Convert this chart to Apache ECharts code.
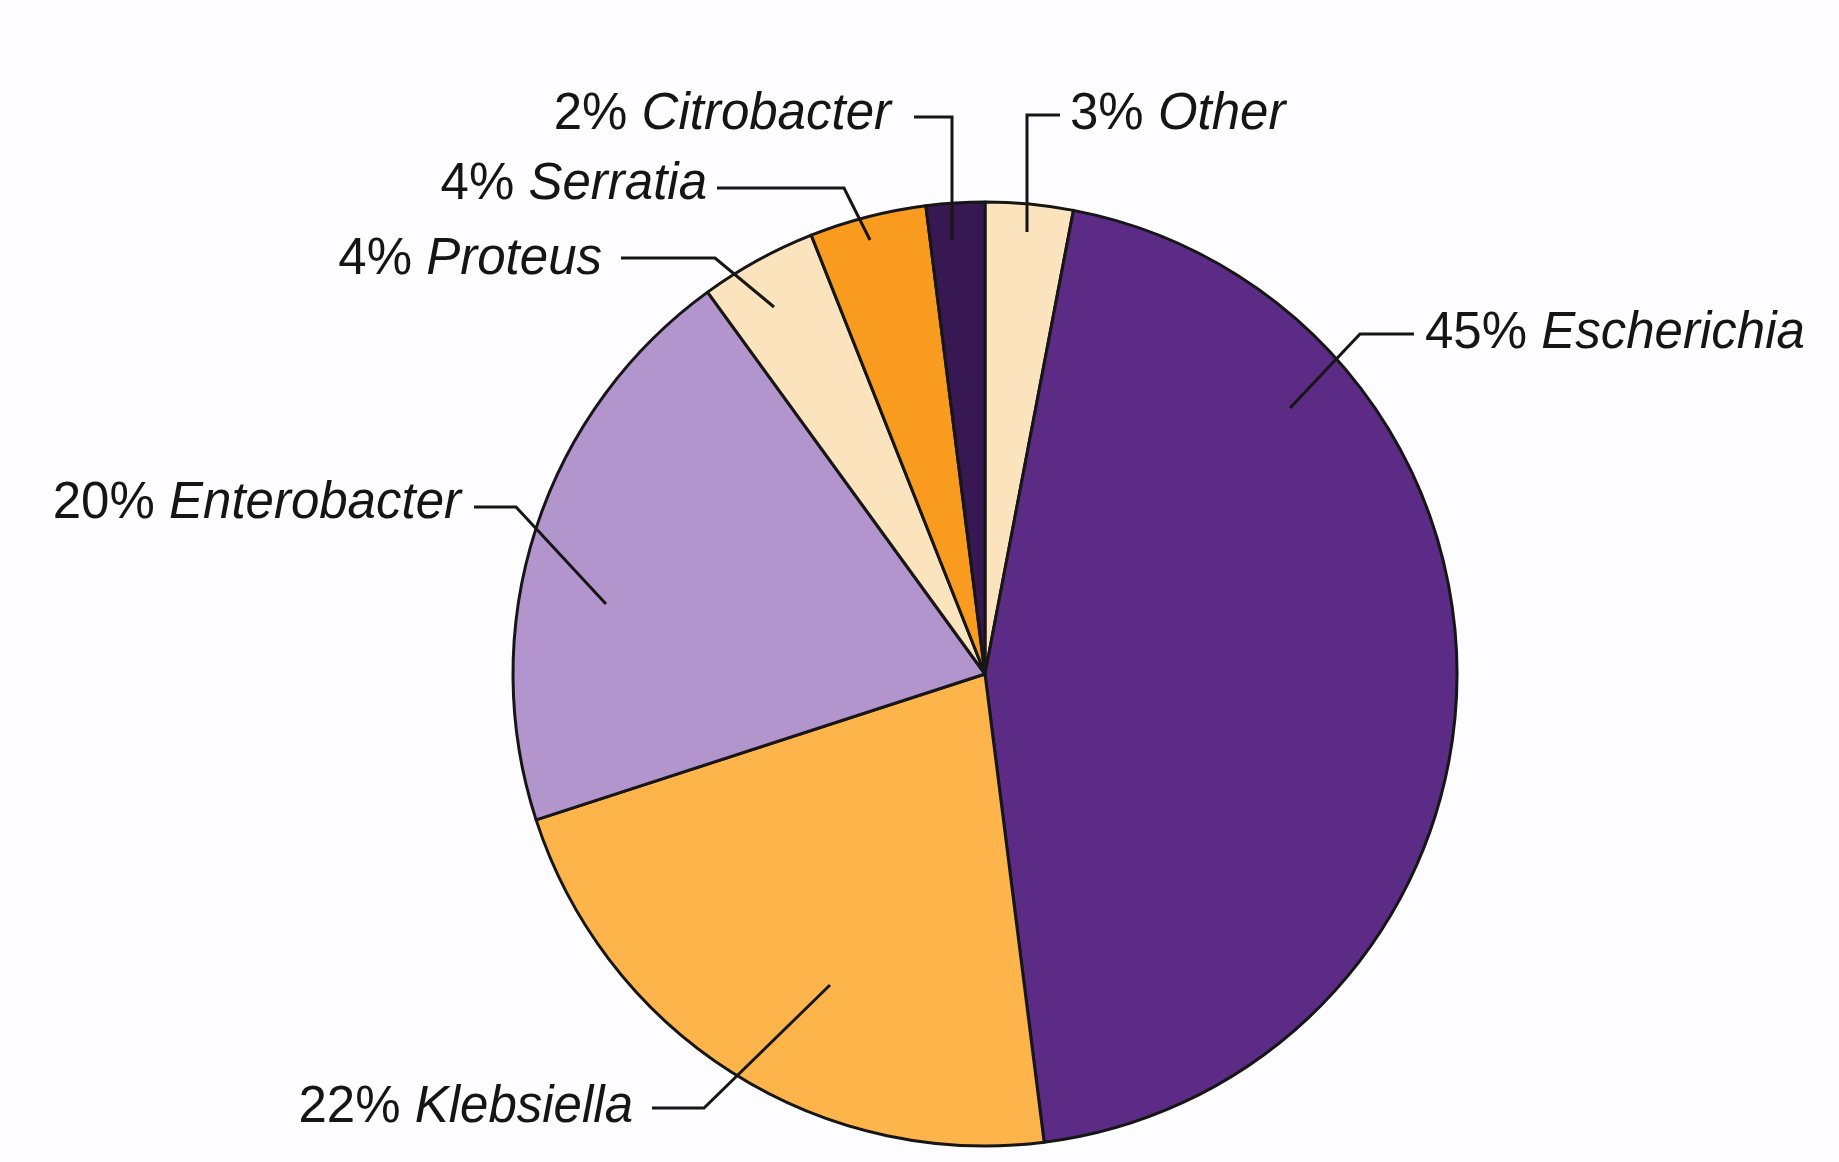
<!DOCTYPE html>
<html>
<head>
<meta charset="utf-8">
<script src="https://cdn.jsdelivr.net/npm/echarts@6/dist/echarts.min.js"></script>
<style>
html,body{margin:0;padding:0;background:#fdfcfe;}
#chart{width:1839px;height:1162px;}
</style>
</head>
<body>
<div id="chart"></div>
<script>
// ---- data (clockwise from 12 o'clock) ----
const categories = ['Other', 'Escherichia', 'Klebsiella', 'Enterobacter', 'Proteus', 'Serratia', 'Citrobacter'];
const percents   = [3, 45, 22, 20, 4, 4, 2];

// ---- styling ----
const sliceColors = ['#fbe3bd', '#5b2b86', '#fdb54b', '#b195cc', '#fbe3bd', '#f89b1f', '#371853'];

// label placement (annotation positions, px) and leader-line points
const labelPlacement = [
  { x: 1070, y: 115, align: 'left',  line: [[1027, 232], [1027, 115], [1060, 115]] },   // Other
  { x: 1425, y: 334, align: 'left',  line: [[1290, 408], [1360, 334], [1414, 334]] },   // Escherichia
  { x: 633,  y: 1108, align: 'right', line: [[830, 985], [704, 1108], [652, 1108]] },   // Klebsiella
  { x: 461,  y: 504, align: 'right', line: [[606, 604], [516, 507], [474, 507]] },      // Enterobacter
  { x: 602,  y: 260, align: 'right', line: [[774, 307], [715, 258], [621, 258]] },      // Proteus
  { x: 707,  y: 185, align: 'right', line: [[870, 240], [844, 188], [717, 188]] },      // Serratia
  { x: 891,  y: 115, align: 'right', line: [[952, 240], [952, 117], [914, 117]] }       // Citrobacter
];

const pieCenter = [985, 674];
const pieRadius = 472;
const textColor = '#151515';
const lineColor = '#161616';

const chart = echarts.init(document.getElementById('chart'));
chart.setOption({
  backgroundColor: '#fdfcfe',
  animation: false,
  series: [
    {
      // filled slices
      type: 'pie',
      z: 2,
      center: pieCenter,
      radius: [0, pieRadius],
      startAngle: 90,
      clockwise: true,
      data: categories.map((c, i) => ({ name: c, value: percents[i], itemStyle: { color: sliceColors[i] } })),
      itemStyle: { borderColor: lineColor, borderWidth: 3 },
      label: { show: false },
      labelLine: { show: false },
      emphasis: { disabled: true },
      silent: true
    },
    {
      // same data, transparent, carrying labels + leader lines on top
      type: 'pie',
      z: 5,
      center: pieCenter,
      radius: [0, pieRadius],
      startAngle: 90,
      clockwise: true,
      avoidLabelOverlap: false,
      minShowLabelAngle: 0,
      data: categories.map((c, i) => ({ name: c, value: percents[i] })),
      itemStyle: { color: 'rgba(0,0,0,0)', borderWidth: 0 },
      label: {
        show: true,
        position: 'outside',
        fontFamily: 'Liberation Sans',
        fontSize: 51,
        color: textColor,
        formatter: p => '{p|' + p.value + '%} {n|' + p.name + '}',
        rich: {
          p: { fontFamily: 'Liberation Sans', fontSize: 51, color: textColor },
          n: { fontFamily: 'Liberation Sans', fontSize: 51, fontStyle: 'italic', color: textColor }
        }
      },
      labelLine: {
        show: true,
        length: 10,
        length2: 10,
        smooth: false,
        lineStyle: { color: lineColor, width: 3 }
      },
      labelLayout: function (params) {
        const lp = labelPlacement[params.dataIndex];
        return {
          x: lp.x,
          y: lp.y,
          align: lp.align,
          verticalAlign: 'middle',
          labelLinePoints: lp.line
        };
      },
      emphasis: { disabled: true },
      silent: true
    }
  ]
});
</script>
</body>
</html>
